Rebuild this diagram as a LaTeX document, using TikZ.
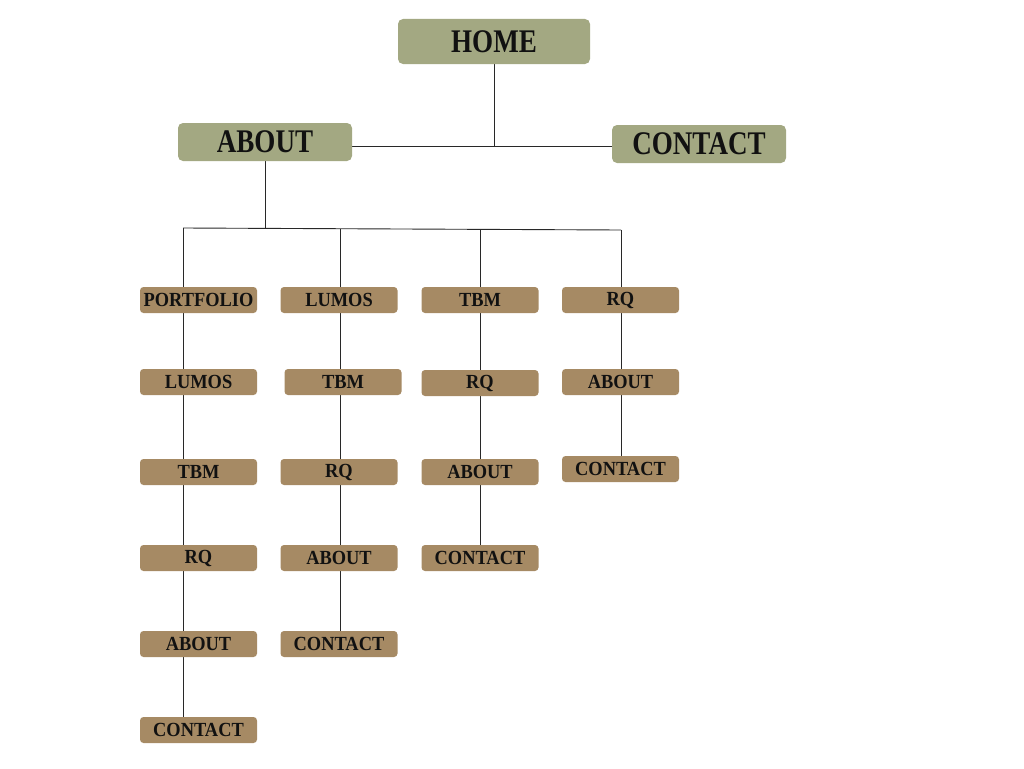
\documentclass[tikz,border=0pt]{standalone}
\usepackage{fontspec}
\setmainfont{Liberation Serif}
\newfontfamily\bigdisp[FakeStretch=0.82]{Liberation Serif Bold}
\newfontfamily\smalldisp[FakeStretch=0.92]{Liberation Serif Bold}
\usetikzlibrary{backgrounds}
\definecolor{sage}{RGB}{163,168,130}
\definecolor{tan}{RGB}{166,138,100}
\definecolor{ink}{RGB}{17,17,17}
\definecolor{wire}{RGB}{40,40,40}
\tikzset{
  bigbox/.style={fill=sage, rounded corners=5pt, inner sep=0pt, text=ink, font=\bigdisp\fontsize{33}{33}\selectfont},
  smallbox/.style={fill=tan, rounded corners=3.5pt, inner sep=0pt, minimum width=117pt, minimum height=26pt, text=ink, font=\smalldisp\fontsize{20}{20}\selectfont},
  wireline/.style={draw=wire, line width=0.9pt}
}
\begin{document}
\begin{tikzpicture}[x=1pt,y=-1pt]
\useasboundingbox (0,0) rectangle (1024,768);
% top level
\node[bigbox, minimum width=192pt, minimum height=45pt] (home) at (494,41.5) {HOME};
\node[bigbox, minimum width=174pt, minimum height=38pt] (about) at (265,142) {ABOUT};
\node[bigbox, minimum width=174pt, minimum height=38pt] (contact) at (699,144) {CONTACT};
% column 1
\node[smallbox] (a1) at (198.5,300) {PORTFOLIO};
\node[smallbox] (a2) at (198.5,382) {LUMOS};
\node[smallbox] (a3) at (198.5,472) {TBM};
\node[smallbox] (a4) at (198.5,558) {RQ};
\node[smallbox] (a5) at (198.5,644) {ABOUT};
\node[smallbox] (a6) at (198.5,730) {CONTACT};
% column 2
\node[smallbox] (b1) at (339,300) {LUMOS};
\node[smallbox] (b2) at (343,382) {TBM};
\node[smallbox] (b3) at (339,472) {RQ};
\node[smallbox] (b4) at (339,558) {ABOUT};
\node[smallbox] (b5) at (339,644) {CONTACT};
% column 3
\node[smallbox] (c1) at (480,300) {TBM};
\node[smallbox] (c2) at (480,383) {RQ};
\node[smallbox] (c3) at (480,472) {ABOUT};
\node[smallbox] (c4) at (480,558) {CONTACT};
% column 4
\node[smallbox] (d1) at (620.5,300) {RQ};
\node[smallbox] (d2) at (620.5,382) {ABOUT};
\node[smallbox] (d3) at (620.5,469) {CONTACT};
% junctions
\coordinate (j1) at (494,146);
\coordinate (j2) at (265,228.5);
\coordinate (t1) at (183,228);
\coordinate (t2) at (340,228.7);
\coordinate (t3) at (480,229.4);
\coordinate (t4) at (621,230);
\begin{scope}[on background layer]
\draw[wireline] (home) -- (j1);
\draw[wireline] (about.east |- j1) -- (contact.west |- j1);
\draw[wireline] (about) -- (j2);
\draw[wireline] (t1) -- (t4);
\draw[wireline] (t1) -- (t1 |- a6.north);
\draw[wireline] (t2) -- (t2 |- b5.north);
\draw[wireline] (t3) -- (t3 |- c4.north);
\draw[wireline] (t4) -- (t4 |- d3.north);
\end{scope}
\end{tikzpicture}
\end{document}
